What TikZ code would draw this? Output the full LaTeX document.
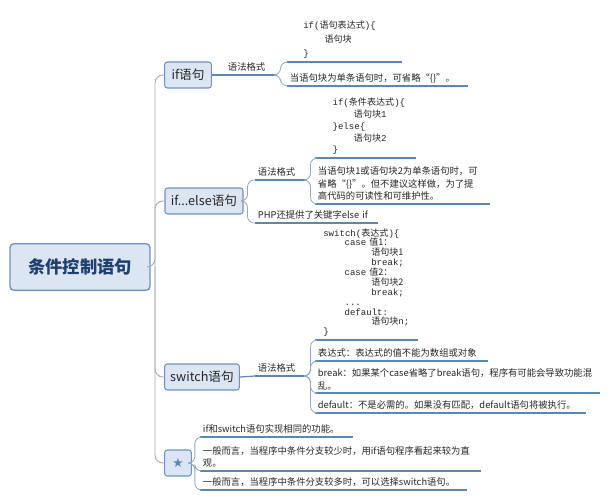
\documentclass[tikz,border=0pt]{standalone}
\usepackage{fontspec}
\setmainfont{Noto Sans CJK SC}
\setmonofont{Liberation Mono}
\newfontfamily\zhfont{Noto Sans CJK SC}
\newfontfamily\symfont{DejaVu Sans}
\newcommand{\zh}[1]{{\zhfont #1}}
\newcommand{\tightlines}{\lineskiplimit=-8pt\relax\lineskip=0pt\relax}
\usetikzlibrary{positioning}
\definecolor{lineblue}{HTML}{5B86B8}
\definecolor{boxfill}{HTML}{DCE6F2}
\definecolor{boxline}{HTML}{6F93C0}
\definecolor{spinegray}{HTML}{A4ACB6}
\definecolor{rootblue}{HTML}{1F3F6E}
\tikzset{
  topic/.style={draw=boxline, fill=boxfill, line width=0.8pt, rounded corners=2pt,
    inner sep=0pt, font=\fontsize{9.5}{11}\selectfont, text=black!85},
  leaf/.style={anchor=south west, inner xsep=2pt, inner ysep=2.3pt, align=left,
    font=\fontsize{7}{9.5}\selectfont\tightlines, text=black!85},
  code/.style={leaf, font=\ttfamily\fontsize{6.8}{#1}\selectfont\tightlines},
  uline/.style={draw=lineblue, line width=0.9pt},
  brk/.style={draw=lineblue!70, line width=0.6pt, rounded corners=5pt},
  spine/.style={draw=spinegray, line width=0.7pt, rounded corners=6pt}
}
\begin{document}
\begin{tikzpicture}[x=0.75pt, y=-0.75pt]
\useasboundingbox (0,0) rectangle (611,500);
% main topics
\node[topic, minimum width=105pt, minimum height=35pt, line width=1pt, rounded corners=3pt,
  font=\fontsize{13}{15}\selectfont\bfseries, text=rootblue] (root) at (80,267) {条件控制语句};
\node[topic, minimum width=35pt, minimum height=19.5pt] (tif) at (188,75) {if语句};
\node[topic, minimum width=58.5pt, minimum height=19.5pt] (telse) at (204,201) {if...else语句};
\node[topic, minimum width=56pt, minimum height=19.5pt] (tsw) at (202,377) {switch语句};
\node[topic, minimum width=20pt, minimum height=19.5pt, text=lineblue] (tstar) at (178,463) {\symfont ★};
\coordinate (sp) at (155,267);
\draw[spine] (root.east) -- (sp) |- (tif.west);
\draw[spine] (sp) |- (telse.west);
\draw[spine] (sp) |- (tsw.west);
\draw[spine] (sp) |- (tstar.west);

% if
\node[leaf, text width=33.5pt] (gf1) at (225,75) {语法格式};
\node[code=10.5pt, text width=82pt] (c1) at (287,62) {\hspace*{10pt}if(\zh{语句表达式})\{\\\hspace*{10pt}\hspace*{16pt}\zh{语句块}\\\hspace*{10pt}\}};
\node[leaf, text width=131pt] (i1) at (287,86) {当语句块为单条语句时，可省略“\{\}”。};
\draw[uline] (tif.east) -- (gf1.south west);
\foreach \n in {gf1,c1,i1} \draw[uline] (\n.south west) -- (\n.south east);
\draw[brk] (gf1.south east) -- ++(5,0) |- (c1.south west);
\draw[brk] (gf1.south east) -- ++(5,0) |- (i1.south west);

% if...else
\node[leaf, text width=33.5pt] (gf2) at (255,180) {语法格式};
\node[leaf, text width=87.5pt] (p2) at (255,223) {PHP还提供了关键字else if};
\node[code=8.8pt, text width=71pt] (c2) at (315,158) {\hspace*{11pt}if(\zh{条件表达式})\{\\\hspace*{11pt}\hspace*{16pt}\zh{语句块}1\\\hspace*{11pt}\}else\{\\\hspace*{11pt}\hspace*{16pt}\zh{语句块}2\\\hspace*{11pt}\}};
\node[leaf, text width=127pt] (i2) at (315,204) {当语句块1或语句块2为单条语句时，可\\省略“\{\}”。但不建议这样做，为了提\\高代码的可读性和可维护性。};
\foreach \n in {gf2,p2,c2,i2} \draw[uline] (\n.south west) -- (\n.south east);
\draw[brk] (telse.east) -- ++(4,0) |- (gf2.south west);
\draw[brk] (telse.east) -- ++(4,0) |- (p2.south west);
\draw[brk] (gf2.south east) -- ++(5,0) |- (c2.south west);
\draw[brk] (gf2.south east) -- ++(5,0) |- (i2.south west);

% switch
\node[leaf, text width=33.5pt] (gf3) at (255,376) {语法格式};
\node[code=7.4pt, text width=73pt] (c3) at (315,340) {\hspace*{4pt}switch(\zh{表达式})\{\\
\hspace*{4pt}\hspace*{16pt}case \zh{值1：}\\\hspace*{4pt}\hspace*{36pt}\zh{语句块1}\\\hspace*{4pt}\hspace*{36pt}break;\\
\hspace*{4pt}\hspace*{16pt}case \zh{值2：}\\\hspace*{4pt}\hspace*{36pt}\zh{语句块2}\\\hspace*{4pt}\hspace*{36pt}break;\\
\hspace*{4pt}\hspace*{16pt}...\\\hspace*{4pt}\hspace*{16pt}default:\\\hspace*{4pt}\hspace*{36pt}\zh{语句块}n;\\\hspace*{4pt}\}};
\node[leaf, text width=125pt] (s1) at (315,361) {表达式：表达式的值不能为数组或对象};
\node[leaf, text width=209.5pt] (s2) at (315,393) {break：如果某个case省略了break语句，程序有可能会导致功能混\\乱。};
\node[leaf, text width=198.5pt] (s3) at (315,413) {default：不是必需的。如果没有匹配，default语句将被执行。};
\draw[uline] (tsw.east) -- (gf3.south west);
\foreach \n in {gf3,c3,s1,s2,s3} \draw[uline] (\n.south west) -- (\n.south east);
\foreach \n in {c3,s1,s2,s3} \draw[brk] (gf3.south east) -- ++(5,0) |- (\n.south west);

% star
\node[leaf, text width=110pt] (t1) at (200,437) {if和switch语句实现相同的功能。};
\node[leaf, text width=206pt] (t2) at (200,471) {一般而言，当程序中条件分支较少时，用if语句程序看起来较为直\\观。};
\node[leaf, text width=196pt] (t3) at (200,490) {一般而言，当程序中条件分支较多时，可以选择switch语句。};
\foreach \n in {t1,t2,t3} \draw[uline] (\n.south west) -- (\n.south east);
\foreach \n in {t1,t2,t3} \draw[brk] (tstar.east) -- ++(3,0) |- (\n.south west);
\end{tikzpicture}
\end{document}
